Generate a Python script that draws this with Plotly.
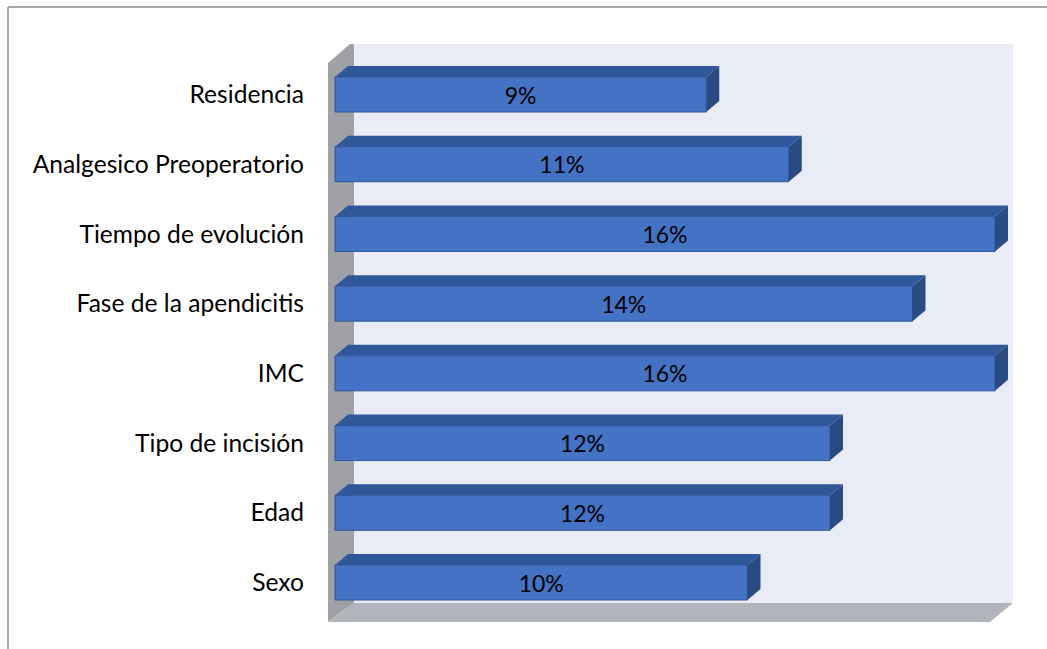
import plotly.graph_objects as go

# ---- data ----
categories = ["Residencia", "Analgesico Preoperatorio", "Tiempo de evolución",
              "Fase de la apendicitis", "IMC", "Tipo de incisión", "Edad", "Sexo"]
values = [9, 11, 16, 14, 16, 12, 12, 10]
labels = ["9%", "11%", "16%", "14%", "16%", "12%", "12%", "10%"]

# ---- geometry / style ----
FONT = "Lato"
W, H = 1047, 649
L, R, T, B = 328, 34, 44, 27
PW, PH = W - L - R, H - T - B
PX_PER_X = 41.25          # pixels per percentage point
X0_PX = 335               # pixel where value 0 sits on the bar front plane
CAT_PX = 69.714           # pixels between category centres
Y0_PX = 94.5              # pixel centre of first category
x_lo = -(X0_PX - L) / PX_PER_X
x_hi = x_lo + PW / PX_PER_X
y_top = -(Y0_PX - T) / CAT_PX
y_bot = y_top + PH / CAT_PX
BAR_W = 35 / CAT_PX
DX = 13 / PX_PER_X
DY = 11 / CAT_PX

FRONT = "#4472C4"
TOP = "#30579A"
SIDE = "#2A4A82"
EDGE = "#2F5597"

pos = list(range(len(categories)))

fig = go.Figure()
fig.add_trace(go.Bar(
    x=values, y=pos, orientation="h", width=BAR_W,
    marker=dict(color=FRONT, line=dict(color=EDGE, width=1)),
    text=labels, textposition="inside", insidetextanchor="middle",
    constraintext="none", textangle=0,
    textfont=dict(family=FONT, size=23, color="black"),
    hoverinfo="skip", cliponaxis=False,
))

shapes = []

def px2paper(px, py):
    return (px - L) / PW, 1 - (py - T) / PH

def poly(points, color, layer="below", ref="paper"):
    if ref == "paper":
        pts = [px2paper(*p) for p in points]
    else:
        pts = points
    path = "M " + " L ".join(f"{x:.5f},{y:.5f}" for x, y in pts) + " Z"
    return dict(type="path", path=path, xref="paper" if ref == "paper" else "x",
                yref="paper" if ref == "paper" else "y",
                fillcolor=color, line=dict(width=0), layer=layer)

# walls (decoration, in pixel → paper units)
shapes.append(poly([(354, 44), (1013, 44), (1013, 603), (354, 603)], "#E9EBF6"))
shapes.append(poly([(328, 63), (350, 44), (354, 44), (354, 603), (328, 622)], "#A0A1A6"))
shapes.append(poly([(328, 622), (990, 622), (1013, 603), (354, 603)], "#B1B4BB"))

# 3D faces of bars from data values
for i, v in zip(pos, values):
    yt = i - BAR_W / 2
    yb = i + BAR_W / 2
    shapes.append(poly([(0, yt), (v, yt), (v + DX, yt - DY), (DX, yt - DY)], TOP,
                       layer="above", ref="data"))
    shapes.append(poly([(v, yt), (v + DX, yt - DY), (v + DX, yb - DY), (v, yb)], SIDE,
                       layer="above", ref="data"))

# outer frame lines
bx0, by0 = px2paper(8, 7)
bx1, by1 = px2paper(1047, 649)
shapes.append(dict(type="line", xref="paper", yref="paper", x0=bx0, y0=by0, x1=bx1, y1=by0,
                   line=dict(color="#8C8C8C", width=1.5)))
shapes.append(dict(type="line", xref="paper", yref="paper", x0=bx0, y0=by0, x1=bx0, y1=by1,
                   line=dict(color="#8C8C8C", width=1.5)))

fig.update_layout(
    width=W, height=H,
    margin=dict(l=L, r=R, t=T, b=B, pad=0),
    paper_bgcolor="white", plot_bgcolor="rgba(0,0,0,0)",
    showlegend=False, shapes=shapes,
    font=dict(family=FONT, color="black"),
    xaxis=dict(range=[x_lo, x_hi], visible=False, showgrid=False, zeroline=False, fixedrange=True),
    yaxis=dict(range=[y_bot, y_top], tickmode="array", tickvals=pos, ticktext=categories,
               showgrid=False, zeroline=False, showline=False, ticks="",
               ticklabelstandoff=23, tickfont=dict(family=FONT, size=24.6, color="black"),
               fixedrange=True),
)

fig.write_html("out.html")
